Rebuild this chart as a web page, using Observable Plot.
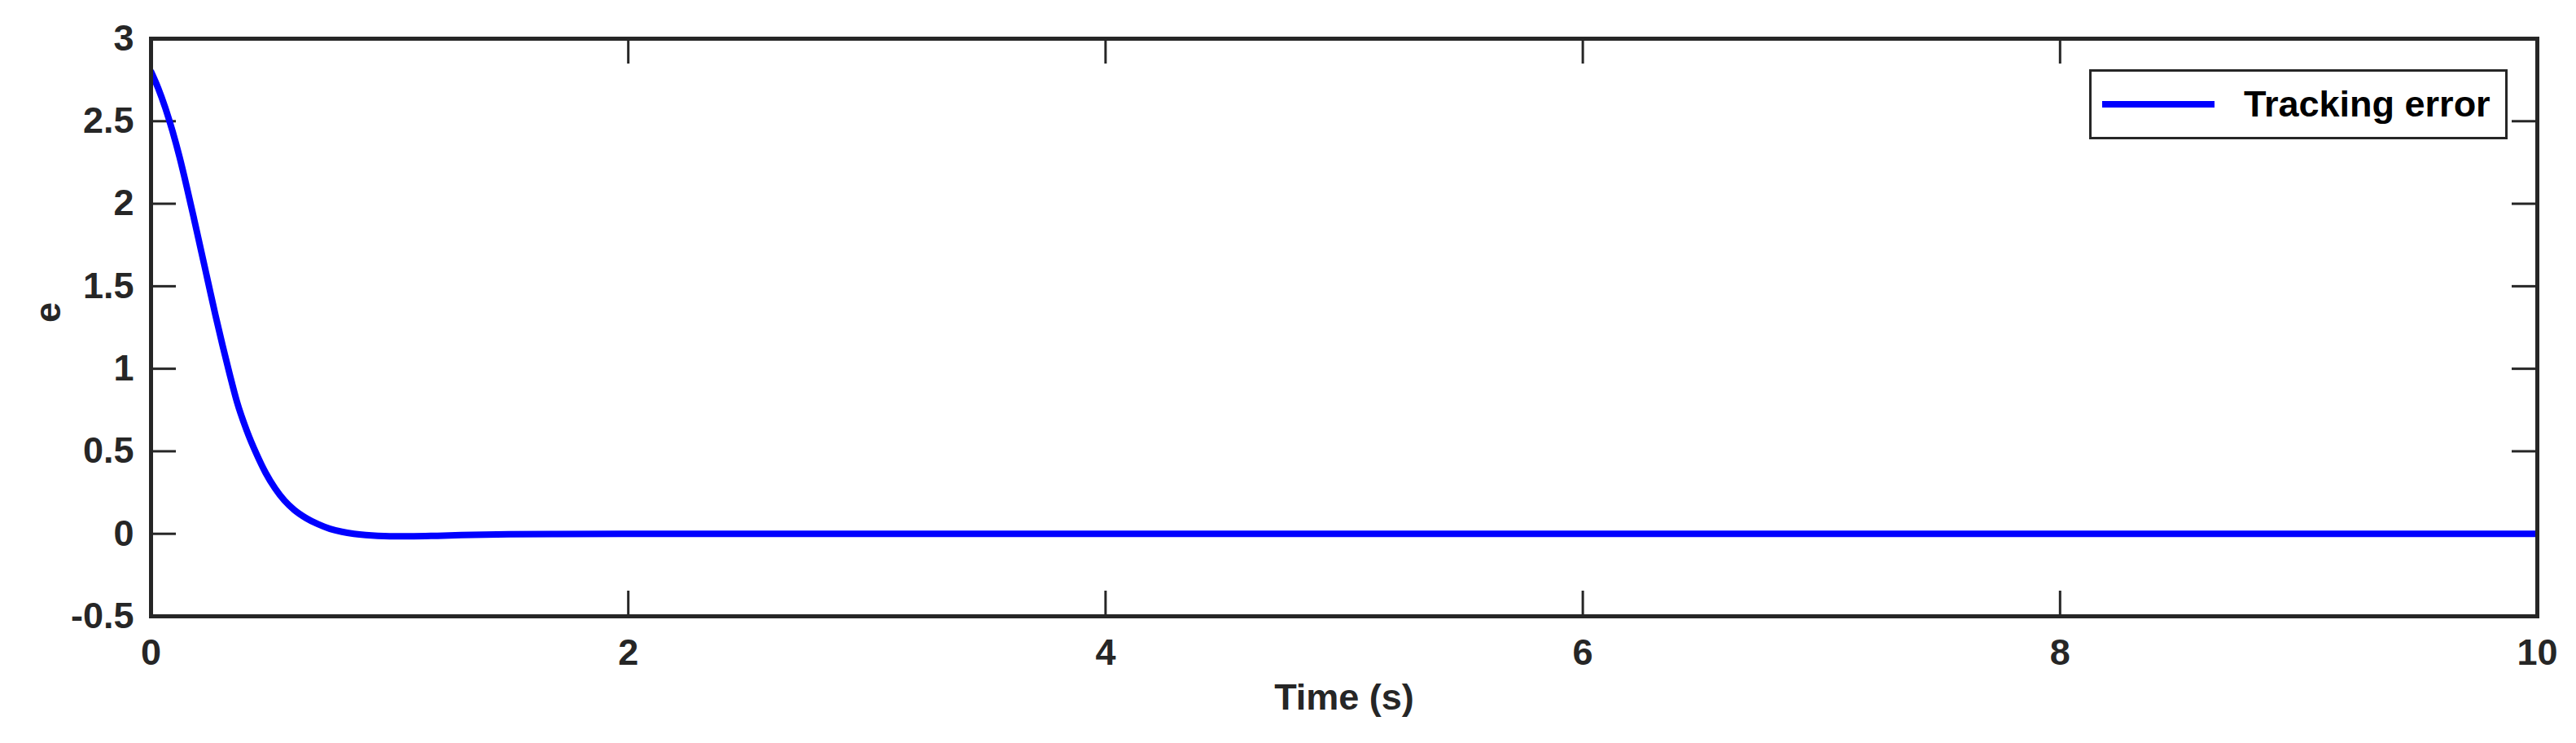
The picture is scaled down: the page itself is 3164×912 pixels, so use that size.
<!DOCTYPE html>
<html>
<head>
<meta charset="utf-8">
<script src="https://cdn.jsdelivr.net/npm/d3@7"></script>
<script src="https://cdn.jsdelivr.net/npm/@observablehq/plot@0.6"></script>
<style>
  html, body { margin: 0; padding: 0; background: #fff; }
  #wrap { position: relative; width: 3164px; height: 912px; }
  #legend {
    position: absolute; left: 2566px; top: 85px; width: 508px; height: 80px;
    border: 3px solid #262626; background: #fff;
    font-family: "Liberation Sans", Arial, sans-serif; font-weight: bold; font-size: 45px; color: #000;
  }
  #legend .swatch { position: absolute; left: 13px; top: 36px; width: 138px; height: 8px; background: #0000ff; }
  #legend .label { position: absolute; left: 187px; top: 0; height: 80px; line-height: 80px; white-space: nowrap; }
</style>
</head>
<body>
<div id="wrap">
  <div id="chart"></div>
  <div id="legend"><div class="swatch"></div><div class="label">Tracking error</div></div>
</div>
<script>
// Time (s)
const time = [0, 0.03, 0.06, 0.09, 0.12, 0.15, 0.18, 0.21, 0.24, 0.27, 0.30, 0.33, 0.36, 0.40, 0.44, 0.48, 0.52, 0.56, 0.60, 0.65, 0.70, 0.75, 0.80, 0.85, 0.90, 0.95, 1.0, 1.1, 1.2, 1.3, 1.4, 1.5, 1.7, 2, 3, 4, 5, 6, 7, 8, 9, 10];
// Tracking error e
const error = [2.80, 2.70, 2.58, 2.44, 2.28, 2.10, 1.91, 1.715, 1.52, 1.325, 1.14, 0.965, 0.80, 0.63, 0.49, 0.37, 0.275, 0.20, 0.145, 0.095, 0.058, 0.030, 0.012, 0.000, -0.008, -0.013, -0.015, -0.015, -0.012, -0.008, -0.005, -0.003, -0.001, 0, 0, 0, 0, 0, 0, 0, 0, 0];
const xTicks = [0, 2, 4, 6, 8, 10];
const yTicks = [-0.5, 0, 0.5, 1, 1.5, 2, 2.5, 3];
const xLabel = "Time (s)";
const yLabel = "e";
const seriesName = "Tracking error";

const data = time.map((t, i) => ({t, e: error[i]}));

const W = 3164, H = 912;
const mL = 185, mR = 48, mT = 47, mB = 156;
const innerW = W - mL - mR, innerH = H - mT - mB;
const tickLen = 31;
const axisColor = "#262626";

const chart = Plot.plot({
  width: W,
  height: H,
  marginLeft: mL,
  marginRight: mR,
  marginTop: mT,
  marginBottom: mB,
  style: {fontFamily: "'Liberation Sans', Arial, sans-serif", fontWeight: "bold", fontSize: "45px", color: axisColor, background: "#fff"},
  x: {domain: [0, 10]},
  y: {domain: [-0.5, 3]},
  marks: [
    Plot.axisX(xTicks, {tickSize: 0, tickPadding: 28, fontSize: 45, fontWeight: "bold", label: null, tickFormat: d => String(d), fill: axisColor}),
    Plot.axisY(yTicks, {tickSize: 0, tickPadding: 21, fontSize: 45, fontWeight: "bold", label: null, tickFormat: d => String(d), fill: axisColor}),
    // inward ticks: bottom, top, left, right
    Plot.ruleX(xTicks, {x: d => d, insetTop: innerH - tickLen, stroke: axisColor, strokeWidth: 3}),
    Plot.ruleX(xTicks, {x: d => d, insetBottom: innerH - tickLen, stroke: axisColor, strokeWidth: 3}),
    Plot.ruleY(yTicks, {y: d => d, insetRight: innerW - tickLen, stroke: axisColor, strokeWidth: 3}),
    Plot.ruleY(yTicks, {y: d => d, insetLeft: innerW - tickLen, stroke: axisColor, strokeWidth: 3}),
    Plot.lineY(data, {x: "t", y: "e", stroke: "#0000ff", strokeWidth: 8, curve: "monotone-x", clip: true}),
    Plot.frame({stroke: axisColor, strokeWidth: 5}),
    Plot.text([xLabel], {frameAnchor: "bottom", dy: 114, fontSize: 45, fontWeight: "bold", fill: axisColor}),
    Plot.text([yLabel], {frameAnchor: "left", dx: -126, dy: -6, rotate: -90, fontSize: 45, fontWeight: "bold", fill: axisColor})
  ]
});
document.getElementById("chart").appendChild(chart);
</script>
</body>
</html>
